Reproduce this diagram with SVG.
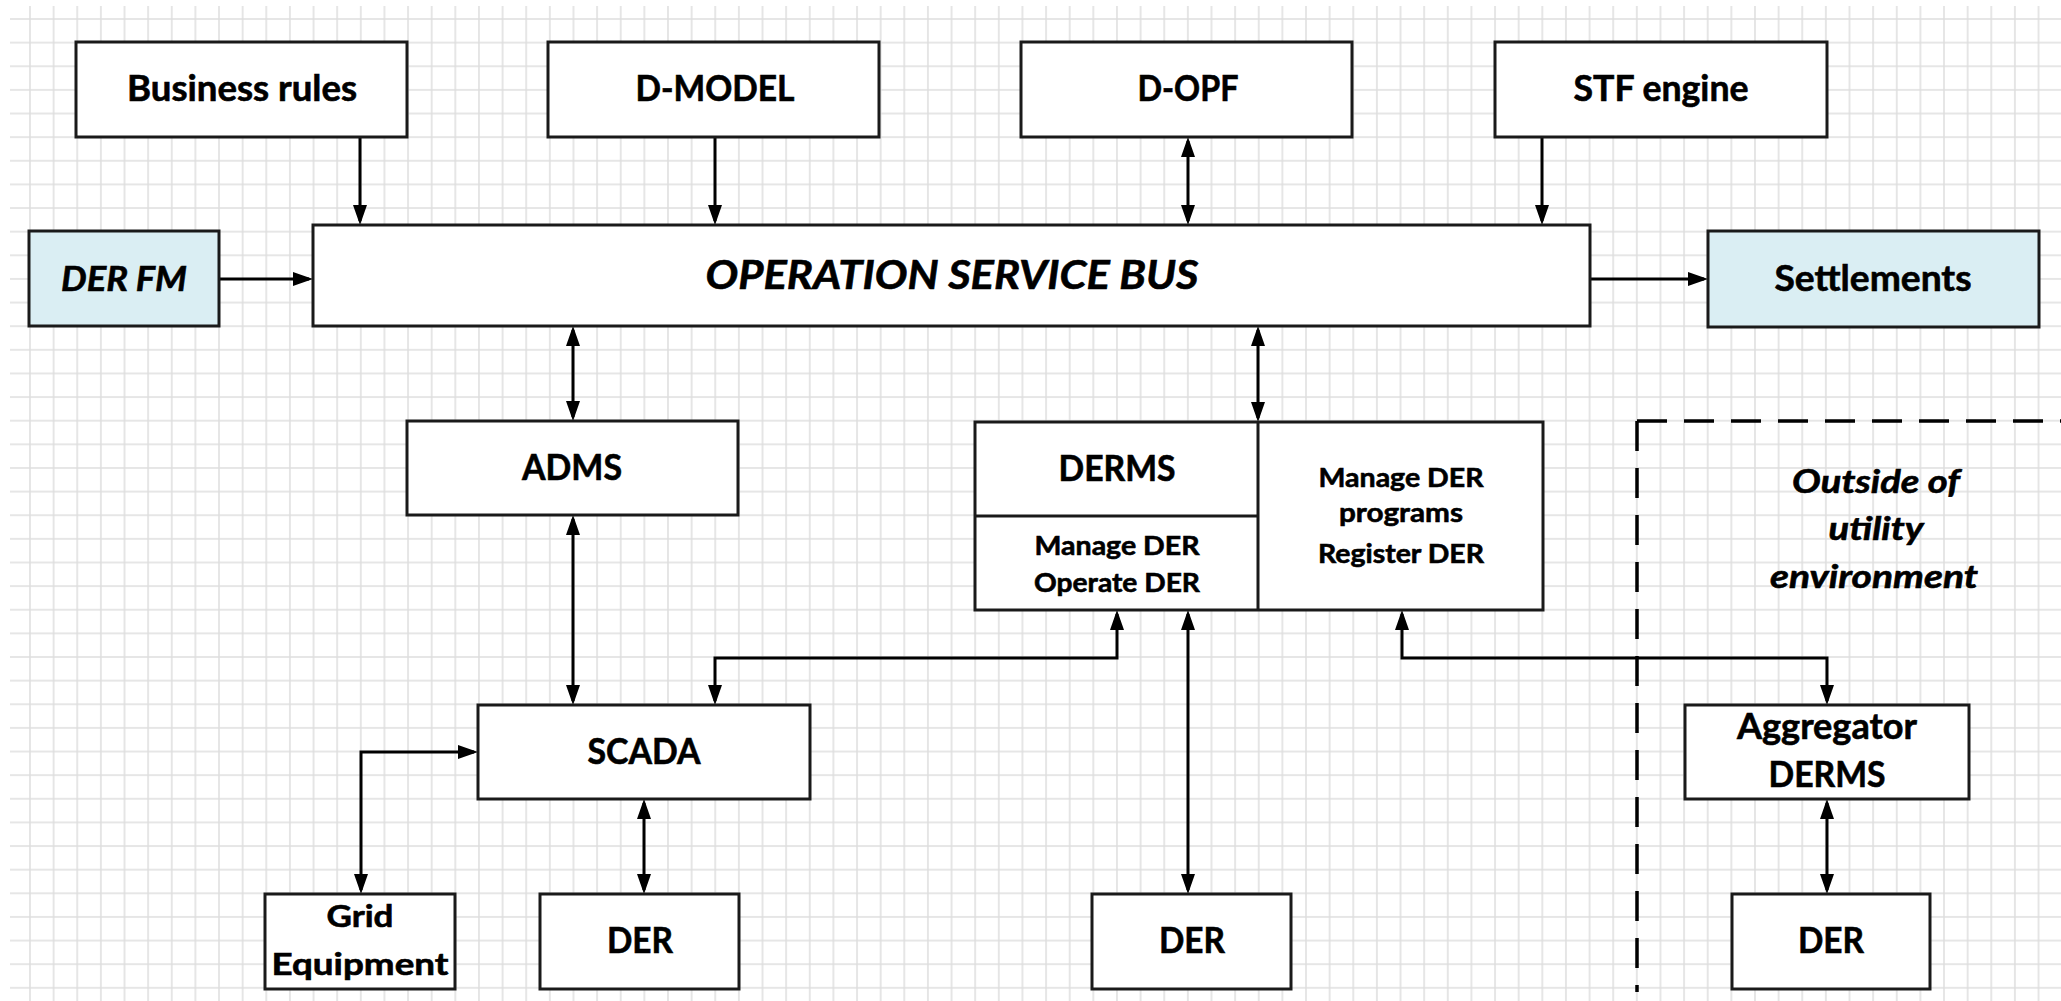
<svg xmlns="http://www.w3.org/2000/svg" width="2061" height="1001" viewBox="0 0 2061 1001">
<style>
.box{fill:#fff;stroke:#1a1a1a;stroke-width:3}
.blue{fill:#daeef3}
.t{font-family:Lato,Carlito,"Liberation Sans",sans-serif;font-weight:700;text-anchor:middle;fill:#000;stroke:#000;stroke-width:0.6}
.m{font-size:35.5px}
.s{font-size:27px}
.g{font-size:31px}
.i{font-style:italic}
.c{fill:none;stroke:#000;stroke-width:3}
.dash{fill:none;stroke:#000;stroke-width:3.5;stroke-dasharray:30 17}
</style>
<defs>
<pattern id="grid" patternUnits="userSpaceOnUse" x="18.185" y="7.185" width="23.63" height="23.63">
<path d="M0 11.815H23.63M11.815 0V23.63" stroke="#dedede" stroke-width="1.5" fill="none"/>
</pattern>
<marker id="ah" viewBox="0 0 20 14" refX="16" refY="7" markerWidth="20" markerHeight="14" markerUnits="userSpaceOnUse" orient="auto-start-reverse">
<path d="M0 0L20 7L0 14z" fill="#000"/>
</marker>
</defs>
<rect width="2061" height="1001" fill="#fff"/>
<rect x="10" y="6" width="2051" height="995" fill="url(#grid)"/>

<g id="boundary">
<path class="dash" d="M1637 421H2061"/>
<path class="dash" d="M1637 421V992"/>
<text class="t i" font-size="33" x="1876" y="493" textLength="168" lengthAdjust="spacingAndGlyphs">Outside of</text>
<text class="t i" font-size="33" x="1876" y="540" textLength="95" lengthAdjust="spacingAndGlyphs">utility</text>
<text class="t i" font-size="33" x="1874" y="588" textLength="208" lengthAdjust="spacingAndGlyphs">environment</text>
</g>

<g id="connectors">
<path class="c" d="M360 137V221" marker-end="url(#ah)"/>
<path class="c" d="M715 137V221" marker-end="url(#ah)"/>
<path class="c" d="M1188 141V221" marker-start="url(#ah)" marker-end="url(#ah)"/>
<path class="c" d="M1542 137V221" marker-end="url(#ah)"/>
<path class="c" d="M219 279H309" marker-end="url(#ah)"/>
<path class="c" d="M1590 279H1704" marker-end="url(#ah)"/>
<path class="c" d="M573 330V417" marker-start="url(#ah)" marker-end="url(#ah)"/>
<path class="c" d="M1258 330V418" marker-start="url(#ah)" marker-end="url(#ah)"/>
<path class="c" d="M573 519V701" marker-start="url(#ah)" marker-end="url(#ah)"/>
<path class="c" d="M715 701V658H1117V614" marker-start="url(#ah)" marker-end="url(#ah)"/>
<path class="c" d="M1188 614V890" marker-start="url(#ah)" marker-end="url(#ah)"/>
<path class="c" d="M1402 614V658H1827V701" marker-start="url(#ah)" marker-end="url(#ah)"/>
<path class="c" d="M474 752H361V890" marker-start="url(#ah)" marker-end="url(#ah)"/>
<path class="c" d="M644 803V890" marker-start="url(#ah)" marker-end="url(#ah)"/>
<path class="c" d="M1827 803V890" marker-start="url(#ah)" marker-end="url(#ah)"/>
</g>

<g id="business-rules">
<rect class="box" x="76" y="42" width="331" height="95"/>
<text class="t m" x="242" y="101" textLength="230" lengthAdjust="spacingAndGlyphs">Business rules</text>
</g>
<g id="d-model">
<rect class="box" x="548" y="42" width="331" height="95"/>
<text class="t m" x="715" y="101" textLength="159" lengthAdjust="spacingAndGlyphs">D-MODEL</text>
</g>
<g id="d-opf">
<rect class="box" x="1021" y="42" width="331" height="95"/>
<text class="t m" x="1188" y="101" textLength="101" lengthAdjust="spacingAndGlyphs">D-OPF</text>
</g>
<g id="stf-engine">
<rect class="box" x="1495" y="42" width="332" height="95"/>
<text class="t m" x="1661" y="101" textLength="175" lengthAdjust="spacingAndGlyphs">STF engine</text>
</g>
<g id="der-fm">
<rect class="box blue" x="29" y="231" width="190" height="95"/>
<text class="t i" font-size="34.5" x="124" y="291" textLength="126" lengthAdjust="spacingAndGlyphs">DER FM</text>
</g>
<g id="osb">
<rect class="box" x="313" y="225" width="1277" height="101"/>
<text class="t i" font-size="39.5" x="952" y="289" textLength="493" lengthAdjust="spacingAndGlyphs">OPERATION SERVICE BUS</text>
</g>
<g id="settlements">
<rect class="box blue" x="1708" y="231" width="331" height="96"/>
<text class="t m" x="1873" y="291" textLength="197" lengthAdjust="spacingAndGlyphs">Settlements</text>
</g>
<g id="adms">
<rect class="box" x="407" y="421" width="331" height="94"/>
<text class="t m" x="572" y="480" textLength="100" lengthAdjust="spacingAndGlyphs">ADMS</text>
</g>
<g id="derms">
<rect class="box" x="975" y="422" width="568" height="188"/>
<path d="M1258 422V610M975 516H1258" stroke="#1a1a1a" stroke-width="3" fill="none"/>
<text class="t m" x="1117" y="481" textLength="117" lengthAdjust="spacingAndGlyphs">DERMS</text>
<text class="t s" x="1117" y="555" textLength="165" lengthAdjust="spacingAndGlyphs">Manage DER</text>
<text class="t s" x="1117" y="592" textLength="166" lengthAdjust="spacingAndGlyphs">Operate DER</text>
<text class="t s" x="1401" y="487" textLength="165" lengthAdjust="spacingAndGlyphs">Manage DER</text>
<text class="t s" x="1401" y="522" textLength="124" lengthAdjust="spacingAndGlyphs">programs</text>
<text class="t s" x="1401" y="563" textLength="166" lengthAdjust="spacingAndGlyphs">Register DER</text>
</g>
<g id="scada">
<rect class="box" x="478" y="705" width="332" height="94"/>
<text class="t m" x="644" y="764" textLength="113" lengthAdjust="spacingAndGlyphs">SCADA</text>
</g>
<g id="grid-equipment">
<rect class="box" x="265" y="894" width="190" height="95"/>
<text class="t g" x="360" y="927" textLength="67" lengthAdjust="spacingAndGlyphs">Grid</text>
<text class="t g" x="360" y="975" textLength="177" lengthAdjust="spacingAndGlyphs">Equipment</text>
</g>
<g id="der-1">
<rect class="box" x="540" y="894" width="199" height="95"/>
<text class="t m" x="640" y="953" textLength="66" lengthAdjust="spacingAndGlyphs">DER</text>
</g>
<g id="der-2">
<rect class="box" x="1092" y="894" width="199" height="95"/>
<text class="t m" x="1192" y="953" textLength="66" lengthAdjust="spacingAndGlyphs">DER</text>
</g>
<g id="aggregator-derms">
<rect class="box" x="1685" y="705" width="284" height="94"/>
<text class="t m" x="1827" y="739" textLength="180" lengthAdjust="spacingAndGlyphs">Aggregator</text>
<text class="t m" x="1827" y="787" textLength="117" lengthAdjust="spacingAndGlyphs">DERMS</text>
</g>
<g id="der-3">
<rect class="box" x="1732" y="894" width="198" height="95"/>
<text class="t m" x="1831" y="953" textLength="66" lengthAdjust="spacingAndGlyphs">DER</text>
</g>
</svg>
